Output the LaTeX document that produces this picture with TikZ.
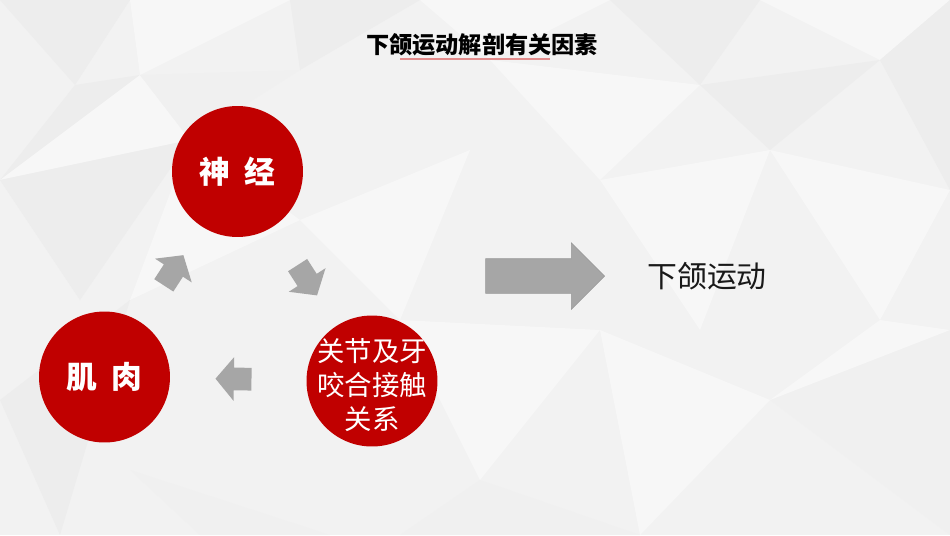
\documentclass[tikz,border=0pt]{standalone}
\usepackage{fontspec}
\newfontfamily\cjk{Noto Sans CJK SC}
\usetikzlibrary{shapes.arrows,positioning}
\definecolor{darkred}{HTML}{C00000}
\definecolor{arrowgray}{HTML}{A6A6A6}
\definecolor{linered}{HTML}{E38C8C}

\begin{document}
\begin{tikzpicture}[
    x=0.02cm, y=-0.02cm,
    % Define styles
    factor/.style={
        circle,
        fill=darkred,
        minimum size=2.62cm,
        inner sep=0pt,
        text=white,
        font={\cjk\fontsize{17.5}{21}\selectfont\bfseries}
    },
    jointtext/.style={
        align=center,
        font={\cjk\fontsize{15.6}{19.5}\selectfont}
    },
    cyclearrow/.style={
        single arrow,
        fill=arrowgray,
        minimum height=0.72cm,
        inner xsep=0pt,
        inner ysep=0.22cm,
        single arrow head extend=0.21cm,
        single arrow tip angle=100,
        sloped,
        allow upside down
    },
    bigarrow/.style={
        single arrow,
        fill=arrowgray,
        draw=black!40,
        line width=0.3pt,
        minimum height=2.38cm,
        inner xsep=0pt,
        inner ysep=0.34cm,
        single arrow head extend=0.32cm
    },
    titletext/.style={
        inner sep=0pt,
        font={\cjk\fontsize{13.2}{16}\selectfont\bfseries}
    },
    plaintext/.style={
        inner sep=0pt,
        text=black!90,
        font={\cjk\fontsize{17}{20}\selectfont}
    }
]

% Background with faint facets
\useasboundingbox (0,0) rectangle (950,535);
\fill[black!5] (0,0) rectangle (950,535);
\foreach \ax/\ay/\bx/\by/\cx/\cy/\s in {
    0/0/130/0/75/85/7, 130/0/290/0/140/75/3, 75/85/140/75/0/180/7,
    0/180/140/75/190/140/3, 290/0/420/0/300/70/7, 140/75/300/70/190/140/6,
    420/0/610/0/490/60/3, 610/0/760/0/700/85/7, 760/0/950/0/880/60/3,
    700/85/880/60/770/150/7, 880/60/950/0/950/190/7, 490/60/700/85/600/180/3,
    0/180/190/140/80/300/7, 600/180/770/150/700/330/3, 770/150/950/190/880/320/3,
    0/400/130/300/60/535/7, 300/220/470/150/400/320/3, 400/320/600/330/480/480/3,
    600/330/770/400/640/535/3, 770/400/950/330/950/535/6, 880/320/950/330/770/400/3,
    130/470/330/535/200/535/6, 190/140/300/220/130/300/3, 480/480/640/535/400/535/6}
{
    \fill[black!\s] (\ax,\ay) -- (\bx,\by) -- (\cx,\cy) -- cycle;
}

% Title
\node[titletext] (title) at (482,45) {下颌运动解剖有关因素};
\coordinate (ulA) at (400,59);
\coordinate (ulB) at (550,59);
\draw[linered, line width=0.6pt] (ulA) -- (ulB);

% Three factors
\node[factor] (nerve) at (237.5,171.5) {神\hspace{0.45em}经};
\node[factor] (muscle) at (104.5,377) {肌\hspace{0.45em}肉};
\node[factor, font={}] (joint) at (372,381) {};
\node[jointtext, text=white] (jointlabel) at (372,385) {关节及牙\\咬合接触\\关系};

% Cycle arrows
\path (muscle) -- node[cyclearrow] (toNerve) {} (nerve);
\path (nerve) -- node[cyclearrow] (toJoint) {} (joint);
\path (joint) -- node[cyclearrow] (toMuscle) {} (muscle);

% Result
\node[bigarrow] (result) at (536.5,276) {};
\node[plaintext, anchor=west, right=0.84cm of result.tip] (jaw) {下颌运动};
\end{tikzpicture}
\end{document}
